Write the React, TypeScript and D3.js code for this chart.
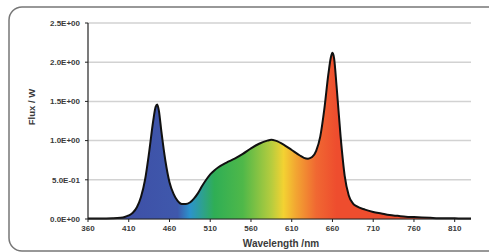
import * as d3 from 'd3'

const wavelengths = [
  360, 370, 380, 390, 400, 405, 410, 415, 420, 425, 430, 435, 440, 443, 445, 447, 450, 455, 460, 465,
  470, 475, 480, 485, 490, 495, 500, 505, 510, 515, 520, 530, 540, 550, 560, 570, 580, 585, 590, 600,
  610, 620, 625, 630, 635, 640, 645, 650, 655, 658, 660, 662, 665, 670, 675, 680, 685, 690, 700, 710,
  720, 730, 740, 750, 760, 770, 780, 790, 800, 810, 820, 830,
]
const flux = [
  0.005, 0.005, 0.006, 0.008, 0.015, 0.025, 0.045, 0.08, 0.15, 0.28, 0.5, 0.85, 1.25, 1.43, 1.46, 1.38,
  1.12, 0.74, 0.47, 0.32, 0.23, 0.19, 0.19, 0.21, 0.26, 0.33, 0.42, 0.5, 0.57, 0.62, 0.66, 0.72, 0.77,
  0.83, 0.9, 0.96, 1.0, 1.01, 1.0, 0.95, 0.88, 0.81, 0.78, 0.77, 0.79, 0.87, 1.05, 1.4, 1.85, 2.06, 2.12,
  2.05, 1.7, 1.05, 0.55, 0.3, 0.2, 0.16, 0.12, 0.09, 0.07, 0.05, 0.04, 0.03, 0.025, 0.02, 0.015, 0.01,
  0.01, 0.008, 0.006, 0.005,
]
const xTicks = [360, 410, 460, 510, 560, 610, 660, 710, 760, 810]
const yTicks = [0, 0.5, 1.0, 1.5, 2.0, 2.5]
const yTickLabels = ['0.0E+00', '5.0E-01', '1.0E+00', '1.5E+00', '2.0E+00', '2.5E+00']
const stopWl = [360, 470, 485, 515, 550, 585, 600, 615, 640, 665, 830]
const stopColor = [
  '#3d4aa3', '#3f58ac', '#2c93cc', '#2fae55', '#4fb849', '#b6cc3e', '#f3d232', '#f2a632', '#f06832',
  '#ee4d2e', '#ee4d2e',
]

const W = 489
const H = 252
const left = 88
const right = 471
const top = 23
const bottom = 219

export default function App() {
  const x = d3.scaleLinear().domain([360, 830]).range([left, right])
  const y = d3.scaleLinear().domain([0, 2.5]).range([bottom, top])
  const pts = wavelengths.map((w, i) => [w, flux[i]] as [number, number])
  const area = d3
    .area<[number, number]>()
    .x((d) => x(d[0]))
    .y0(y(0))
    .y1((d) => y(d[1]))
    .curve(d3.curveMonotoneX)
  const line = d3
    .line<[number, number]>()
    .x((d) => x(d[0]))
    .y((d) => y(d[1]))
    .curve(d3.curveMonotoneX)
  const font = '"Liberation Sans", Arial, sans-serif'
  const txt = '#3a3a3a'

  return (
    <svg
      width={W}
      height={H}
      style={{ position: 'absolute', left: 0, top: 0, background: '#fff' }}
    >
      <defs>
        <linearGradient id="spec" gradientUnits="userSpaceOnUse" x1={x(360)} x2={x(830)} y1={0} y2={0}>
          {stopWl.map((w, i) => (
            <stop key={i} offset={(x(w) - x(360)) / (x(830) - x(360))} stopColor={stopColor[i]} />
          ))}
        </linearGradient>
      </defs>
      <rect x={9} y={7} width={520} height={244} rx={13} fill="#fff" stroke="#777" strokeWidth={1.5} />
      {yTicks.map((t) => (
        <line key={t} x1={left} x2={right} y1={y(t)} y2={y(t)} stroke="#d2d2d2" strokeWidth={1.5} />
      ))}
      <path d={area(pts) ?? ''} fill="url(#spec)" />
      <path d={line(pts) ?? ''} fill="none" stroke="#111" strokeWidth={2} strokeLinejoin="round" />
      <line x1={left} x2={left} y1={top} y2={bottom} stroke="#222" strokeWidth={1.2} />
      <line x1={left} x2={right} y1={bottom} y2={bottom} stroke="#222" strokeWidth={1.2} />
      {yTicks.map((t, i) => (
        <g key={t}>
          <line x1={left - 3} x2={left} y1={y(t)} y2={y(t)} stroke="#222" strokeWidth={1} />
          <text
            x={left - 8}
            y={y(t)}
            dy="0.35em"
            textAnchor="end"
            fontFamily={font}
            fontWeight="bold"
            fontSize={8}
            fill={txt}
          >
            {yTickLabels[i]}
          </text>
        </g>
      ))}
      {xTicks.map((t) => (
        <g key={t}>
          <line x1={x(t)} x2={x(t)} y1={bottom} y2={bottom + 3} stroke="#222" strokeWidth={1} />
          <text
            x={x(t)}
            y={bottom + 12}
            textAnchor="middle"
            fontFamily={font}
            fontWeight="bold"
            fontSize={8}
            fill={txt}
          >
            {t}
          </text>
        </g>
      ))}
      <text
        transform="translate(35,107) rotate(-90)"
        textAnchor="middle"
        fontFamily={font}
        fontWeight="bold"
        fontSize={9.5}
        fill={txt}
      >
        Flux / W
      </text>
      <text
        x={281}
        y={247}
        textAnchor="middle"
        fontFamily={font}
        fontWeight="bold"
        fontSize={10}
        fill={txt}
      >
        Wavelength /nm
      </text>
    </svg>
  )
}
